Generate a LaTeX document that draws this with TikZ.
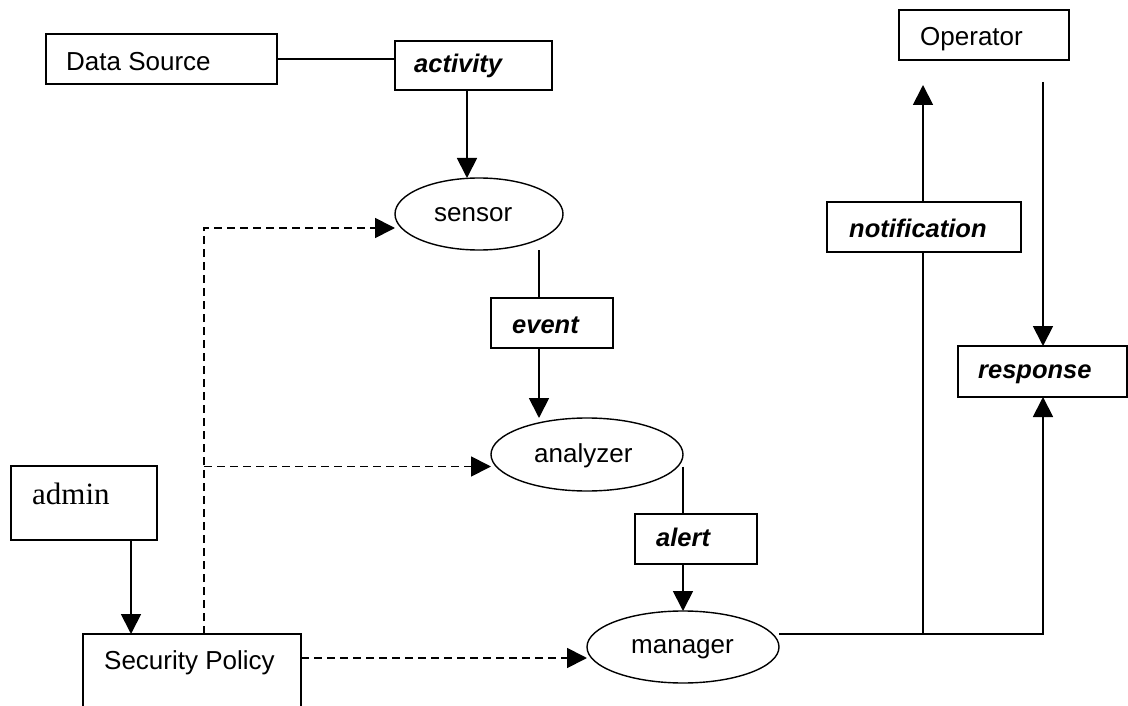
\documentclass[tikz,border=0pt]{standalone}
\usepackage{fontspec}
\setmainfont{Liberation Sans}
\newfontfamily\timesfont{Liberation Serif}
\usetikzlibrary{arrows.meta,calc,shapes.geometric}
\begin{document}
\begin{tikzpicture}[x=1pt,y=-1pt,
  box/.style={draw, line width=1.8pt, inner sep=0pt, outer sep=0pt},
  oval/.style={draw, ellipse, line width=1.4pt, inner sep=0pt, outer sep=0pt},
  txt/.style={anchor=base west, inner sep=0pt, font=\fontsize{26}{31}\selectfont},
  kw/.style={anchor=base west, inner sep=0pt, font=\fontsize{25.5}{31}\selectfont\bfseries\itshape},
  link/.style={line width=1.8pt},
  arr/.style={line width=1.8pt, -{Triangle[length=20pt,width=20pt]}},
  darr/.style={arr, dash pattern=on 8pt off 5pt},
]
\clip (0,0) rectangle (1128,706);

% boxes
\node[box, minimum width=231pt, minimum height=50pt] (ds) at (161.5,59) {};
\node[box, minimum width=157pt, minimum height=49pt] (act) at (473.5,65.5) {};
\node[box, minimum width=122pt, minimum height=50pt] (evt) at (552,323) {};
\node[box, minimum width=122pt, minimum height=50pt] (alr) at (696,539) {};
\node[box, minimum width=170pt, minimum height=50pt] (op) at (984,35) {};
\node[box, minimum width=194pt, minimum height=50pt] (notif) at (924,227) {};
\node[box, minimum width=169pt, minimum height=51pt] (resp) at (1042.5,371.5) {};
\node[box, minimum width=146pt, minimum height=74pt] (admin) at (84,503) {};
\node[box, minimum width=218pt, minimum height=106pt] (sp) at (192,687) {};

% processes
\node[oval, minimum width=168pt, minimum height=72pt] (sensor) at (479,214) {};
\node[oval, minimum width=192pt, minimum height=73pt] (analyzer) at (587,454.5) {};
\node[oval, minimum width=192pt, minimum height=72pt] (manager) at (683,647) {};

% labels
\node[txt] (dsT) at (66,71) {Data Source};
\node[kw] (actT) at (414,73) {activity};
\node[txt] (sensorT) at (434,222) {sensor};
\node[kw] (evtT) at (512,333) {event};
\node[txt] (analyzerT) at (534,462) {analyzer};
\node[kw] (alrT) at (656,546) {alert};
\node[txt] (managerT) at (631,653) {manager};
\node[txt] (opT) at (920,46) {Operator};
\node[kw] (notifT) at (849,237) {notification};
\node[kw] (respT) at (978,378) {response};
\node[anchor=base west, inner sep=0pt, font=\timesfont\fontsize{31}{36}\selectfont] (adminT) at (32,504) {admin};
\node[txt] (spT) at (104,669) {Security Policy};

% connector columns
\coordinate (colA) at (467,0);
\coordinate (colB) at (539,0);
\coordinate (colC) at (683,0);
\coordinate (colD) at (923,0);
\coordinate (colE) at (1043,0);
\coordinate (colF) at (131,0);
\coordinate (colG) at (204,0);
\coordinate (mOut) at ($(manager.east)+(0,-13)$);
\coordinate (aOut) at ($(analyzer.east)+(0,12)$);
\coordinate (sIn) at ($(sensor.west)+(0,14)$);
\coordinate (aIn) at ($(analyzer.west)+(0,12)$);
\coordinate (mIn) at ($(manager.west)+(0,11)$);
\coordinate (spOut) at ($(sp.north east)+(0,24)$);

% data flow
\draw[link] (ds.east) -- (ds.east -| act.west);
\draw[arr] (act.south -| colA) -- (sensor.north -| colA);
\draw[link] (sensor.south -| colB) -- (evt.north -| colB);
\draw[arr] (evt.south -| colB) -- (analyzer.north -| colB);
\draw[link] (aOut) -- (alr.north -| colC);
\draw[arr] (alr.south -| colC) -- (manager.north);
\draw[arr] (mOut) -| (resp.south -| colE);
\draw[link] (mOut -| colD) -- (notif.south -| colD);
\draw[arr] (notif.north -| colD) -- ($(op.south -| colD)+(0,25)$);
\draw[arr] ($(op.south -| colE)+(0,22)$) -- (resp.north -| colE);
\draw[arr] (admin.south -| colF) -- (sp.north -| colF);

% policy distribution
\draw[darr] (sp.north -| colG) |- (sIn);
\draw[darr] (aIn -| colG) -- (aIn);
\draw[darr] (spOut) -- (mIn);
\end{tikzpicture}
\end{document}
